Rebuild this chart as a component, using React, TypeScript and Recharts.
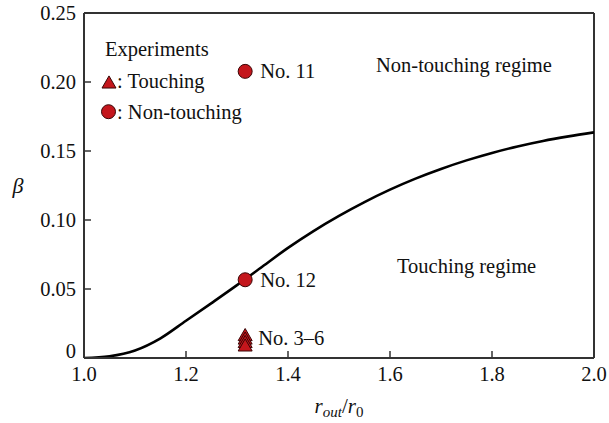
import {
  ComposedChart,
  Line,
  ReferenceLine,
  Scatter,
  XAxis,
  YAxis,
  Label,
} from "recharts";

// critical curve beta(r_out/r_0)
const CURVE_X = [
  1.0, 1.05, 1.1, 1.15, 1.2, 1.25, 1.3, 1.35, 1.4, 1.45, 1.5, 1.55, 1.6, 1.65, 1.7, 1.75, 1.8, 1.85, 1.9, 1.95, 2.0,
];
const CURVE_BETA = [
  0, 0.0013, 0.0055, 0.0143, 0.027, 0.0398, 0.0528, 0.0663, 0.0798, 0.092, 0.103, 0.113, 0.122, 0.13, 0.137,
  0.1432, 0.1486, 0.1533, 0.1573, 0.1606, 0.1635,
];

// experiments, non-touching (circles)
const CIRCLE_X = [1.316, 1.316];
const CIRCLE_BETA = [0.2077, 0.0567];
const CIRCLE_LABELS = ["No. 11", "No. 12"];

// experiments, touching (triangles, No. 3–6)
const TRI_X = [1.316, 1.316, 1.316, 1.316];
const TRI_BETA = [0.0155, 0.013, 0.0105, 0.008];
const TRI_LABELS = ["", "No. 3–6", "", ""];

const X_TICKS = [1.0, 1.2, 1.4, 1.6, 1.8, 2.0];
const Y_TICKS = [0, 0.05, 0.1, 0.15, 0.2, 0.25];

const curve = CURVE_X.map((x, i) => ({ x, beta: CURVE_BETA[i] }));
const circles = CIRCLE_X.map((x, i) => ({ x, beta: CIRCLE_BETA[i], label: CIRCLE_LABELS[i] }));
const triangles = TRI_X.map((x, i) => ({ x, beta: TRI_BETA[i], label: TRI_LABELS[i] }));

const FONT = "'Liberation Serif', 'Times New Roman', serif";
const FS = 20.5;
const AXIS = "#333";
const RED = "#c4161c";
const EDGE = "#3a0505";
const TICK_MARGIN = 8;
const TICK_LEN = 7;

function triPath(cx: number, cy: number, s: number) {
  const h = (s * Math.sqrt(3)) / 2;
  return `M${cx},${cy - (2 * h) / 3} L${cx + s / 2},${cy + h / 3} L${cx - s / 2},${cy + h / 3} Z`;
}

function YTick(props: any) {
  const { x, y, payload } = props;
  const ax = x + TICK_MARGIN;
  const v = payload.value as number;
  return (
    <g>
      <line x1={ax} x2={ax + TICK_LEN} y1={y} y2={y} stroke={AXIS} strokeWidth={1.5} />
      <text x={x} y={v === 0 ? y - 7 : y} textAnchor="end" dominantBaseline="central" fontFamily={FONT} fontSize={FS} fill="#111">
        {v === 0 ? "0" : v.toFixed(2)}
      </text>
    </g>
  );
}

function XTick(props: any) {
  const { x, y, payload } = props;
  const ay = y - TICK_MARGIN;
  return (
    <g>
      <line x1={x} x2={x} y1={ay} y2={ay - TICK_LEN} stroke={AXIS} strokeWidth={1.5} />
      <text x={x} y={y + 15} textAnchor="middle" fontFamily={FONT} fontSize={FS} fill="#111">
        {(payload.value as number).toFixed(1)}
      </text>
    </g>
  );
}

function CircleShape(props: any) {
  const { cx, cy, payload } = props;
  return (
    <g>
      <circle cx={cx} cy={cy} r={7} fill={RED} stroke={EDGE} strokeWidth={1} />
      {payload.label ? (
        <text x={cx + 15} y={cy + 7} fontFamily={FONT} fontSize={FS} fill="#111">
          {payload.label}
        </text>
      ) : null}
    </g>
  );
}

function TriShape(props: any) {
  const { cx, cy, payload } = props;
  return (
    <g>
      <path d={triPath(cx, cy, 14)} fill={RED} stroke={EDGE} strokeWidth={1} />
      {payload.label ? (
        <text x={cx + 13} y={cy + 5} fontFamily={FONT} fontSize={FS} fill="#111">
          {payload.label}
        </text>
      ) : null}
    </g>
  );
}

function XLabel(props: any) {
  const { viewBox } = props;
  const cx = viewBox.x + viewBox.width / 2;
  return (
    <text x={cx} y={viewBox.y + 55} textAnchor="middle" fontFamily={FONT} fontSize={21} fill="#111">
      <tspan fontStyle="italic">r</tspan>
      <tspan fontStyle="italic" fontSize={15} dy={4}>out</tspan>
      <tspan dy={-4}>/</tspan>
      <tspan fontStyle="italic">r</tspan>
      <tspan fontSize={15} dy={4}>0</tspan>
    </text>
  );
}

function YLabel(props: any) {
  const { viewBox } = props;
  return (
    <text x={18} y={viewBox.y + viewBox.height / 2 + 7} textAnchor="middle" fontFamily={FONT} fontStyle="italic" fontSize={22} fill="#111">
      β
    </text>
  );
}

function Overlay() {
  const t = { fontFamily: FONT, fontSize: FS, fill: "#111" };
  return (
    <svg width={609} height={423} style={{ position: "absolute", left: 0, top: 0, pointerEvents: "none" }}>
      <text x={105} y={56} {...t}>Experiments</text>
      <path d={triPath(109, 84, 14)} fill={RED} stroke={EDGE} strokeWidth={1} />
      <text x={117} y={88} {...t}>: Touching</text>
      <circle cx={108.5} cy={111.7} r={7} fill={RED} stroke={EDGE} strokeWidth={1} />
      <text x={117} y={118.5} {...t}>: Non-touching</text>
      <text x={376} y={72} {...t}>Non-touching regime</text>
      <text x={397} y={273} {...t}>Touching regime</text>
    </svg>
  );
}

export default function App() {
  return (
    <div style={{ position: "absolute", left: 0, top: 0, width: 609, height: 423, background: "#fff" }}>
      <ComposedChart width={609} height={423} margin={{ top: 13, right: 15, left: 0, bottom: 0 }}>
        <XAxis
          type="number"
          dataKey="x"
          domain={[1, 2]}
          ticks={X_TICKS}
          allowDataOverflow
          height={65}
          tickSize={0}
          tickMargin={TICK_MARGIN}
          tickLine={false}
          axisLine={{ stroke: AXIS, strokeWidth: 2 }}
          tick={<XTick />}
        >
          <Label content={<XLabel />} />
        </XAxis>
        <YAxis
          type="number"
          dataKey="beta"
          domain={[0, 0.25]}
          ticks={Y_TICKS}
          allowDataOverflow
          width={84}
          tickSize={0}
          tickMargin={TICK_MARGIN}
          tickLine={false}
          axisLine={{ stroke: AXIS, strokeWidth: 2 }}
          tick={<YTick />}
        >
          <Label content={<YLabel />} />
        </YAxis>
        <ReferenceLine y={0.25} stroke={AXIS} strokeWidth={2} />
        <ReferenceLine x={2} stroke={AXIS} strokeWidth={2} />
        <Line
          data={curve}
          dataKey="beta"
          type="monotone"
          stroke="#000"
          strokeWidth={2.6}
          dot={false}
          isAnimationActive={false}
        />
        <Scatter data={triangles} dataKey="beta" shape={<TriShape />} isAnimationActive={false} />
        <Scatter data={circles} dataKey="beta" shape={<CircleShape />} isAnimationActive={false} />
      </ComposedChart>
      <Overlay />
    </div>
  );
}
